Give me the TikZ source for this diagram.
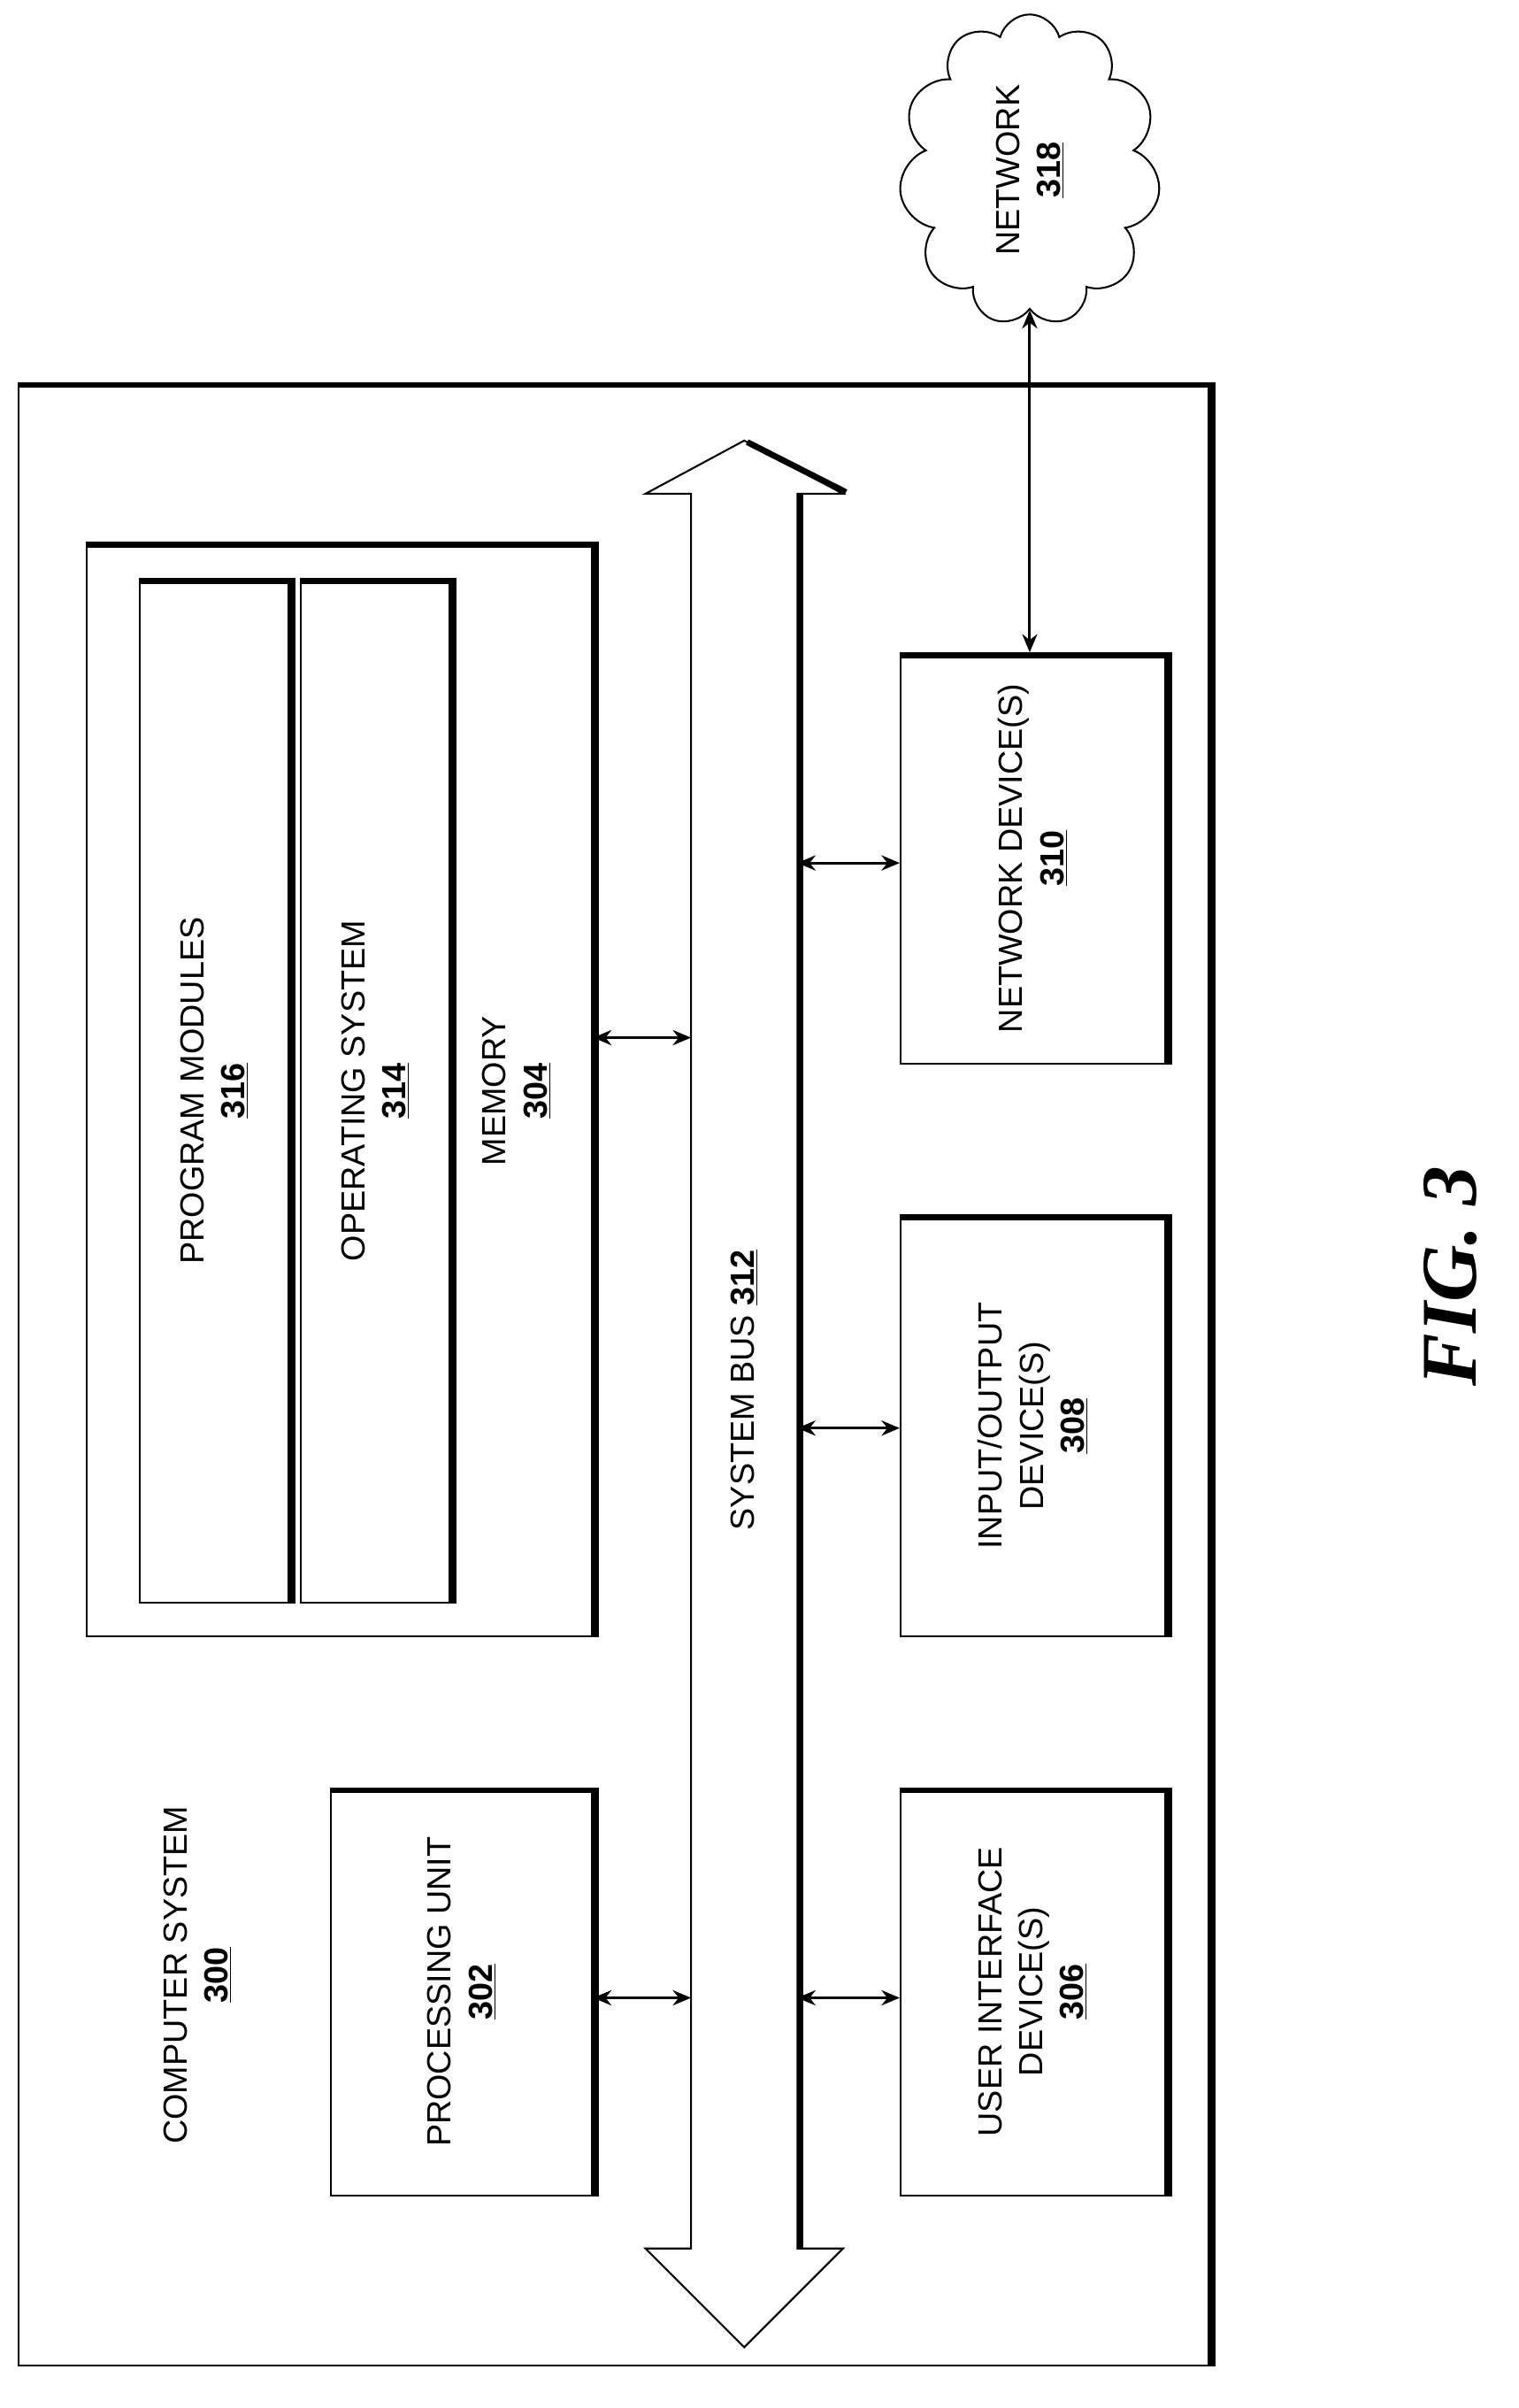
\documentclass[tikz,border=0pt]{standalone}
\usepackage{fontspec}
\setmainfont{Liberation Sans}
\newfontfamily\figfont{Liberation Serif}
\usetikzlibrary{arrows.meta,shapes.symbols,positioning}
\tikzset{
  blk/.style={draw,line width=1.2pt,minimum width=#1},
  lbl/.style={rotate=90,align=center,font=\fontsize{22}{27}\selectfont},
  link/.style={{Stealth[length=12pt,width=10pt]}-{Stealth[length=12pt,width=10pt]},line width=1.8pt}
}
\newcommand{\refno}[1]{\underline{\textbf{#1}}}
% thick shadow along top and right side of a box
\newcommand{\boxshade}[1]{\draw[line width=4pt] ([xshift=1pt,yshift=-2pt]#1.north west) -- ([xshift=2pt,yshift=-2pt]#1.north east) -- ([xshift=2pt]#1.south east);}
\begin{document}
\begin{tikzpicture}[x=1pt,y=-1pt]
\useasboundingbox (0,0) rectangle (1000,1585);

% outer system
\node (sys) [blk=783pt,minimum height=1305pt] at (404,904.5) {};
\boxshade{sys}
\node[lbl] (syslbl) at (130,1300) {COMPUTER SYSTEM\\\refno{300}};

% memory with its contents
\node (mem) [blk=333pt,minimum height=720pt] at (223.5,717) {};
\boxshade{mem}
\node (pm) [blk=98pt,minimum height=674pt] at (141,718) {};
\boxshade{pm}
\node (os) [blk=98pt,minimum height=674pt] at (247,718) {};
\boxshade{os}
\node[lbl] at (pm) {PROGRAM MODULES\\\refno{316}};
\node[lbl] at (os) {OPERATING SYSTEM\\\refno{314}};
\node[lbl] at (340,718) {MEMORY\\\refno{304}};

% processing unit
\node (cpu) [blk=172pt,minimum height=268pt] at (304,1311) {};
\boxshade{cpu}
\node[lbl] at (cpu) {PROCESSING UNIT\\\refno{302}};

% devices
\node (net) [blk=174pt,minimum height=270pt] at (680,565) {};
\boxshade{net}
\node (io) [blk=174pt,minimum height=277pt] at (680,938.5) {};
\boxshade{io}
\node (ui) [blk=174pt,minimum height=268pt] at (680,1311) {};
\boxshade{ui}
\node[lbl] at (net) {NETWORK DEVICE(S)\\\refno{310}};
\node[lbl] at (io) {INPUT/OUTPUT\\DEVICE(S)\\\refno{308}};
\node[lbl] at (ui) {USER INTERFACE\\DEVICE(S)\\\refno{306}};

% system bus
\draw[line width=1.2pt,fill=white] (490,290) -- (555,325) -- (525,325) -- (525,1480) -- (555,1480)
  -- (490,1545) -- (425,1480) -- (455,1480) -- (455,325) -- (425,325) -- cycle;
\draw[line width=4pt] (492,291) -- (557,324);
\draw[line width=4pt] (527,325) -- (527,1480);
\node[lbl] at (490,915) {SYSTEM BUS \refno{312}};
\coordinate (busL1) at (455,683);
\coordinate (busL2) at (455,1315);
\coordinate (busR1) at (525,568);
\coordinate (busR2) at (525,940);
\coordinate (busR3) at (525,1315);

% network
\node (cloud) [cloud,draw,line width=1.2pt,cloud puffs=11,aspect=0.85,minimum width=172pt,minimum height=205pt] at (678,112) {};
\node[lbl] at (cloud) {NETWORK\\\refno{318}};

% links
\draw[link] (mem.east |- busL1) -- (busL1);
\draw[link] (cpu.east |- busL2) -- (busL2);
\draw[link] (busR1) -- (net.west |- busR1);
\draw[link] (busR2) -- (io.west |- busR2);
\draw[link] (busR3) -- (ui.west |- busR3);
\draw[link] (cloud.south) -- (cloud.south |- net.north);

\node[rotate=90,font=\figfont\bfseries\itshape\fontsize{52}{52}\selectfont] (fig) at (955,840) {FIG. 3};
\end{tikzpicture}
\end{document}
